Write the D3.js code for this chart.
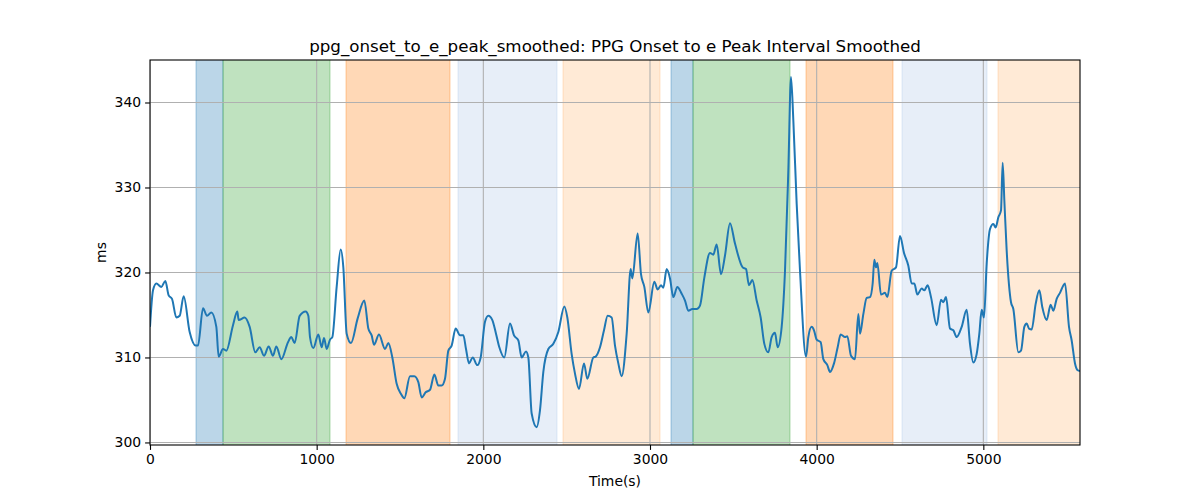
<!DOCTYPE html>
<html>
<head>
<meta charset="utf-8">
<script src="https://cdn.jsdelivr.net/npm/d3@7"></script>
<style>
  body { margin: 0; background: #fff; }
  text { font-family: "DejaVu Sans", sans-serif; fill: #000; }
</style>
</head>
<body>
<div id="chart"></div>
<script>
// Smoothed onset -> e peak interval (ms) over time (s)
var times = [0, 18, 38, 68, 92, 112, 132, 158, 178, 202, 238, 274, 288, 318, 342, 368, 398, 412, 438, 458,
  498, 524, 532, 568, 598, 632, 658, 684, 712, 738, 758, 788, 828, 848, 868, 898, 934, 950, 960, 980,
  1010, 1030, 1044, 1060, 1080, 1094, 1120, 1144, 1160, 1180, 1206, 1246, 1286, 1310, 1330, 1344, 1374, 1410, 1430, 1454,
  1480, 1506, 1526, 1560, 1586, 1610, 1630, 1654, 1680, 1706, 1730, 1750, 1770, 1790, 1810, 1834, 1860, 1880, 1896, 1914,
  1936, 1964, 1984, 2010, 2030, 2054, 2076, 2096, 2126, 2160, 2184, 2210, 2230, 2256, 2270, 2290, 2320, 2340, 2360, 2390,
  2420, 2450, 2486, 2504, 2530, 2550, 2574, 2604, 2624, 2660, 2674, 2700, 2724, 2746, 2770, 2790, 2810, 2830, 2860, 2884,
  2894, 2926, 2946, 2966, 2990, 3026, 3046, 3066, 3080, 3100, 3120, 3140, 3164, 3190, 3210, 3230, 3254, 3280, 3300, 3326,
  3360, 3380, 3400, 3426, 3450, 3480, 3510, 3556, 3576, 3594, 3614, 3640, 3664, 3686, 3710, 3730, 3750, 3766, 3790, 3810,
  3830, 3846, 3860, 3880, 3900, 3936, 3950, 3970, 3984, 4000, 4024, 4040, 4064, 4080, 4104, 4126, 4144, 4170, 4184, 4206,
  4230, 4250, 4260, 4280, 4300, 4320, 4336, 4346, 4356, 4364, 4386, 4410, 4424, 4450, 4476, 4500, 4524, 4550, 4570, 4586,
  4604, 4630, 4646, 4666, 4686, 4720, 4746, 4760, 4776, 4800, 4820, 4840, 4870, 4900, 4920, 4940, 4960, 4976, 4990, 5004,
  5020, 5040, 5060, 5074, 5090, 5106, 5116, 5126, 5140, 5166, 5180, 5210, 5226, 5246, 5260, 5274, 5290, 5314, 5336, 5354,
  5380, 5404, 5420, 5440, 5460, 5490, 5514, 5530, 5550, 5566, 5580];
var values = [313.6, 317.9, 318.7, 318.3, 319.0, 317.3, 316.9, 314.7, 314.9, 317.2, 313.0, 311.4, 311.4, 315.8, 314.9, 315.3, 313.6, 310.1, 311.0, 310.8,
  313.8, 315.4, 314.4, 314.7, 313.6, 310.6, 311.2, 310.2, 311.3, 310.2, 311.3, 309.8, 311.8, 312.4, 311.7, 314.9, 315.4, 314.9, 312.4, 311.1,
  312.7, 311.2, 312.3, 311.0, 312.1, 312.4, 318.3, 322.7, 320.6, 312.8, 311.7, 314.6, 316.7, 313.4, 312.6, 311.5, 312.7, 311.0, 311.7, 310.0,
  306.9, 305.7, 305.2, 307.8, 307.8, 307.1, 305.3, 305.9, 306.2, 308.0, 306.7, 306.7, 307.5, 310.8, 311.4, 313.4, 312.6, 312.6, 311.0, 309.3,
  310.0, 309.1, 310.0, 314.2, 314.9, 314.4, 312.8, 311.2, 310.0, 314.0, 312.6, 312.0, 310.0, 310.7, 310.0, 303.4, 301.8, 303.8, 308.3, 311.0,
  311.6, 313.0, 316.0, 314.7, 310.4, 308.1, 306.3, 309.3, 307.5, 310.0, 310.1, 311.2, 313.2, 314.9, 314.7, 311.4, 309.3, 307.8, 312.8, 320.4,
  319.3, 324.6, 319.8, 318.3, 315.3, 318.9, 318.0, 318.5, 318.2, 320.4, 319.3, 317.1, 318.3, 317.5, 316.7, 315.5, 315.7, 315.7, 316.1, 319.4,
  322.3, 322.1, 323.3, 319.8, 322.0, 325.8, 323.4, 320.6, 320.4, 318.5, 319.1, 316.7, 314.7, 311.6, 310.6, 312.4, 312.9, 311.2, 313.6, 320.2,
  332.0, 343.0, 337.9, 328.1, 320.2, 310.1, 312.4, 313.6, 313.2, 312.1, 311.8, 309.8, 309.1, 308.3, 309.3, 311.2, 312.7, 312.4, 312.5, 310.2,
  309.8, 315.1, 312.8, 315.1, 317.0, 317.1, 318.7, 321.5, 320.6, 321.1, 317.4, 317.6, 317.1, 320.2, 320.6, 324.3, 322.3, 320.8, 318.7, 318.7,
  317.4, 318.1, 317.9, 318.5, 317.1, 313.8, 316.8, 316.5, 317.1, 313.4, 313.2, 312.4, 313.6, 315.6, 311.6, 309.4, 310.4, 312.8, 315.6, 314.7,
  321.0, 325.1, 325.7, 325.3, 326.5, 327.3, 332.9, 328.5, 322.6, 316.5, 315.7, 310.6, 310.8, 313.6, 314.0, 313.4, 313.3, 316.3, 317.9, 315.9,
  314.4, 316.2, 315.5, 316.9, 317.6, 318.7, 313.6, 312.0, 309.3, 308.5, 308.4];

// shaded phases
var spanStarts = [276, 438, 1176, 1848, 2478, 3126, 3258, 3936, 4512, 5088];
var spanEnds   = [438, 1080, 1800, 2442, 3060, 3258, 3840, 4458, 5022, 5600];
var spanKinds  = ["a", "b", "c", "d", "e", "a", "b", "c", "d", "e"];

var xTicks = [0, 1000, 2000, 3000, 4000, 5000];
var yTicks = [300, 310, 320, 330, 340];

var width = 1200, height = 500;
var margin = {top: 60, right: 120, bottom: 55, left: 150};

var svg = d3.select('#chart')
    .append('svg')
    .attr('width', width)
    .attr('height', height);

var x = d3.scaleLinear().domain([0, 5580]).range([margin.left, width - margin.right]);
var y = d3.scaleLinear().domain([299.7, 345.0]).range([height - margin.bottom, margin.top]);

var kindColor = d3.scaleOrdinal()
    .domain(["a", "b", "c", "d", "e"])
    .range(["#1f77b4", "#2ca02c", "#ff7f0e", "#aec7e8", "#ffbb78"]);

var clip = svg.append('clipPath').attr('id', 'plotclip')
  .append('rect')
    .attr('x', margin.left)
    .attr('y', margin.top)
    .attr('width', x.range()[1] - margin.left)
    .attr('height', y.range()[0] - margin.top);

var plot = svg.append('g').attr('clip-path', 'url(#plotclip)');

var spans = spanStarts.map(function(s, i) {
  return {start: s, end: spanEnds[i], kind: spanKinds[i]};
});

plot.selectAll('rect.span')
  .data(spans)
  .enter().append('rect')
    .attr('class', 'span')
    .attr('x', function(d) { return x(d.start); })
    .attr('y', margin.top - 2)
    .attr('width', function(d) { return x(d.end) - x(d.start); })
    .attr('height', y.range()[0] - margin.top + 4)
    .style('fill', function(d) { return kindColor(d.kind); })
    .style('fill-opacity', 0.3)
    .style('stroke', function(d) { return kindColor(d.kind); })
    .style('stroke-opacity', 0.3)
    .style('stroke-width', 1.2);

// grid
plot.selectAll('line.vgrid')
  .data(xTicks)
  .enter().append('line')
    .attr('x1', function(d) { return x(d); })
    .attr('x2', function(d) { return x(d); })
    .attr('y1', margin.top)
    .attr('y2', y.range()[0])
    .style('stroke', '#b0b0b0')
    .style('stroke-width', 1.1);

plot.selectAll('line.hgrid')
  .data(yTicks)
  .enter().append('line')
    .attr('x1', margin.left)
    .attr('x2', x.range()[1])
    .attr('y1', function(d) { return y(d); })
    .attr('y2', function(d) { return y(d); })
    .style('stroke', '#b0b0b0')
    .style('stroke-width', 1.1);

var line = d3.line()
    .x(function(d, i) { return x(times[i]); })
    .y(function(d) { return y(d); })
    .curve(d3.curveMonotoneX);

plot.append('path')
    .datum(values)
    .attr('d', line)
    .style('fill', 'none')
    .style('stroke', '#1f77b4')
    .style('stroke-width', 2)
    .style('stroke-linejoin', 'round');

// axes
var xAxis = d3.axisBottom(x).tickValues(xTicks).tickSize(4.9).tickPadding(4).tickFormat(d3.format('d'));
var yAxis = d3.axisLeft(y).tickValues(yTicks).tickSize(4.9).tickPadding(4).tickFormat(d3.format('d'));

var gx = svg.append('g')
    .attr('transform', 'translate(0,' + y.range()[0] + ')')
    .call(xAxis);
var gy = svg.append('g')
    .attr('transform', 'translate(' + margin.left + ',0)')
    .call(yAxis);

[gx, gy].forEach(function(g) {
  g.select('.domain').remove();
  g.selectAll('line').style('stroke', '#000').style('stroke-width', 1.1);
  g.selectAll('text').style('font-size', '13.9px').style('font-family', '"DejaVu Sans", sans-serif');
});

// frame
svg.append('rect')
    .attr('x', margin.left)
    .attr('y', margin.top)
    .attr('width', x.range()[1] - margin.left)
    .attr('height', y.range()[0] - margin.top)
    .style('fill', 'none')
    .style('stroke', '#000')
    .style('stroke-width', 1.1);

svg.append('text')
    .attr('x', (margin.left + x.range()[1]) / 2)
    .attr('y', 52)
    .attr('text-anchor', 'middle')
    .style('font-size', '16.7px')
    .text('ppg_onset_to_e_peak_smoothed: PPG Onset to e Peak Interval Smoothed');

svg.append('text')
    .attr('x', (margin.left + x.range()[1]) / 2)
    .attr('y', 486)
    .attr('text-anchor', 'middle')
    .style('font-size', '13.9px')
    .text('Time(s)');

svg.append('text')
    .attr('transform', 'translate(106,' + ((margin.top + y.range()[0]) / 2) + ') rotate(-90)')
    .attr('text-anchor', 'middle')
    .style('font-size', '13.9px')
    .text('ms');
</script>
</body>
</html>
